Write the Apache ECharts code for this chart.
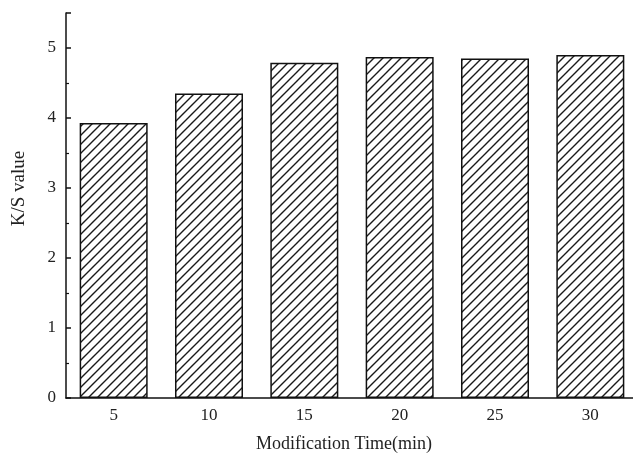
<!DOCTYPE html>
<html>
<head>
<meta charset="utf-8">
<script src="https://cdn.jsdelivr.net/npm/echarts@6/dist/echarts.min.js"></script>
<style>
html,body{margin:0;padding:0;background:#fff;}
#chart{width:633px;height:454px;}
</style>
</head>
<body>
<div id="chart"></div>
<script>
const categories = ['5', '10', '15', '20', '25', '30'];
const ksValues = [3.93, 4.35, 4.79, 4.87, 4.85, 4.90];
const xTitle = 'Modification Time(min)';
const yTitle = 'K/S value';

function makeHatch() {
  const s = 9;
  const c = document.createElement('canvas');
  c.width = s; c.height = s;
  const g = c.getContext('2d');
  g.fillStyle = '#fff';
  g.fillRect(0, 0, s, s);
  g.strokeStyle = '#1a1a1a';
  g.lineWidth = 1.4;
  g.beginPath();
  g.moveTo(-1, s + 1); g.lineTo(s + 1, -1);
  g.moveTo(-2, 2); g.lineTo(2, -2);
  g.moveTo(s - 2, s + 2); g.lineTo(s + 2, s - 2);
  g.stroke();
  return c;
}

const chart = echarts.init(document.getElementById('chart'));
const font = 'Liberation Serif';
chart.setOption({
  animation: false,
  backgroundColor: '#fff',
  grid: { left: 66, right: -5, top: 13, bottom: 56, containLabel: false, outerBoundsMode: 'none' },
  xAxis: {
    type: 'category',
    data: categories,
    name: xTitle,
    nameLocation: 'middle',
    nameGap: 37,
    nameTextStyle: { fontFamily: font, fontSize: 18, color: '#222', padding: [0, 0, 0, -16] },
    axisLine: { lineStyle: { color: '#111', width: 1.5 } },
    axisTick: { show: false },
    axisLabel: { fontFamily: font, fontSize: 17, color: '#222', margin: 9 }
  },
  yAxis: {
    type: 'value',
    min: 0,
    max: 5.5,
    interval: 1,
    name: yTitle,
    nameLocation: 'middle',
    nameGap: 37,
    nameTextStyle: { fontFamily: font, fontSize: 19, color: '#222', padding: [0, 0, 0, 34] },
    axisLine: { show: true, lineStyle: { color: '#111', width: 1.5 } },
    axisTick: { show: true, inside: true, length: 5, lineStyle: { color: '#111', width: 1.5 } },
    minorTick: { show: true, splitNumber: 2, length: 3, lineStyle: { color: '#111', width: 1.2 } },
    splitLine: { show: false },
    axisLabel: { fontFamily: font, fontSize: 17, color: '#222', margin: 10, showMaxLabel: false }
  },
  series: [{
    type: 'bar',
    data: ksValues,
    barWidth: 68,
    itemStyle: {
      color: { image: makeHatch(), repeat: 'repeat' },
      borderColor: '#111',
      borderWidth: 1.5
    }
  }]
});
</script>
</body>
</html>
